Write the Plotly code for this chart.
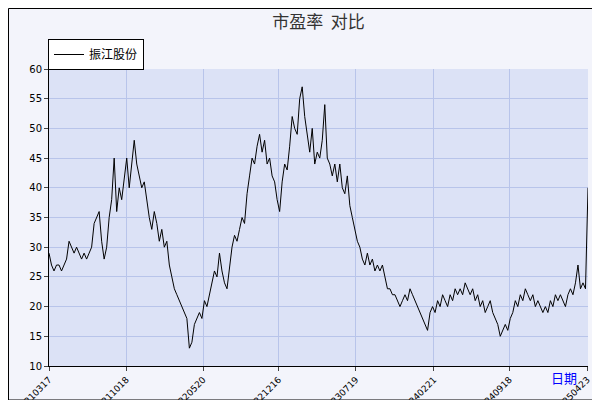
import plotly.graph_objects as go
import pandas as pd

pe_values = [29,27,26,27, 27,26,27,28, 31,30,29,30, 29,28,29,28, 29,30,34,35, 36,31,28,30,
 35,38,45,36, 40,38,42,45, 40,44,48,44, 42,40,41,38, 35,33,36,34, 31,33,30,31,
 27,25,23,22, 21,20,19,18, 13,14,17,18, 19,18,21,20, 22,24,26,25, 29,26,24,23,
 27,30,32,31, 33,35,34,39, 42,45,44,47, 49,46,48,44, 45,42,41,38, 36,41,44,43,
 47,52,50,49, 55,57,52,49, 46,50,44,46, 45,48,54,45, 44,42,44,41, 44,40,39,42,
 37,35,33,31, 30,28,27,29, 27,28,26,27, 26,27,25,23, 23,22,22,21, 20,21,22,21,
 23,22,21,20, 19,18,17,16, 19,20,19,21, 20,22,21,20, 22,21,23,22, 23,22,24,23,
 22,23,21,22, 20,21,19,20, 21,19,18,17, 15,16,17,16, 18,19,21,20, 22,21,23,22,
 21,22,20,21, 20,19,20,19, 21,20,22,21, 22,21,20,22, 23,22,24,27, 23,24,23,40]
dates = pd.date_range("2021-03-17", "2025-04-25", periods=len(pe_values))
tick_labels = ["20210317","20211018","20220520","20221216","20230719","20240221","20240918","20250423"]
tick_dates = pd.to_datetime(tick_labels)

W, H = 600, 400
L, R, T, B = 41, 580, 61, 358
def px(x): return (x - L) / (R - L)
def py(y): return (H - y - (H - B)) / (B - T)

fig = go.Figure()
fig.add_trace(go.Scatter(x=dates, y=pe_values, mode="lines", name="振江股份",
                         line=dict(color="black", width=1)))
shapes = [
    dict(type="rect", xref="paper", yref="paper", x0=px(592), x1=px(600), y0=py(400), y1=py(8),
         fillcolor="#666666", line=dict(width=0)),
    dict(type="rect", xref="paper", yref="paper", x0=px(8), x1=px(600), y0=py(400), y1=py(392),
         fillcolor="#666666", line=dict(width=0)),
    dict(type="rect", xref="paper", yref="paper", x0=px(0.5), x1=px(592), y0=py(392), y1=py(0.5),
         fillcolor="rgba(0,0,0,0)", line=dict(color="black", width=1)),
    dict(type="rect", xref="paper", yref="paper", x0=px(44), x1=px(124), y0=py(58), y1=py(34),
         fillcolor="#aaaaaa", line=dict(width=0), layer="below"),
]
fig.update_layout(
    width=W, height=H, margin=dict(l=L, r=W - R, t=T, b=H - B, autoexpand=False),
    paper_bgcolor="#f3f4fb", plot_bgcolor="#dce2f6",
    shapes=shapes,
    title=dict(text="市盈率  对比", x=0.5, xref="paper", y=1 - 14/400, yanchor="middle",
               font=dict(family="Noto Sans CJK SC", size=17, color="#333")),
    showlegend=True,
    legend=dict(x=px(40), y=py(31), xref="paper", yref="paper", xanchor="left", yanchor="top",
                bgcolor="white", bordercolor="black", borderwidth=1, itemwidth=30,
                font=dict(family="Noto Sans CJK SC", size=12, color="black")),
    font=dict(family="DejaVu Sans", size=10, color="black"),
    xaxis=dict(range=[dates[0], dates[-1]], tickvals=tick_dates, ticktext=tick_labels,
               tickangle=-45, showgrid=True, gridcolor="#b8c4ea", ticks="outside",
               ticklen=4, linecolor="black", showline=True, tickfont=dict(size=9), automargin=False),
    yaxis=dict(range=[10, 60], dtick=5, showgrid=True, gridcolor="#b8c4ea", ticks="outside",
               ticklen=4, linecolor="black", showline=True, tickfont=dict(size=10), automargin=False),
    annotations=[dict(text="日期", xref="paper", yref="paper", x=px(571), y=py(381),
                      showarrow=False, font=dict(family="Noto Sans CJK SC", size=13, color="blue"))],
)
fig.write_html("out.html")
